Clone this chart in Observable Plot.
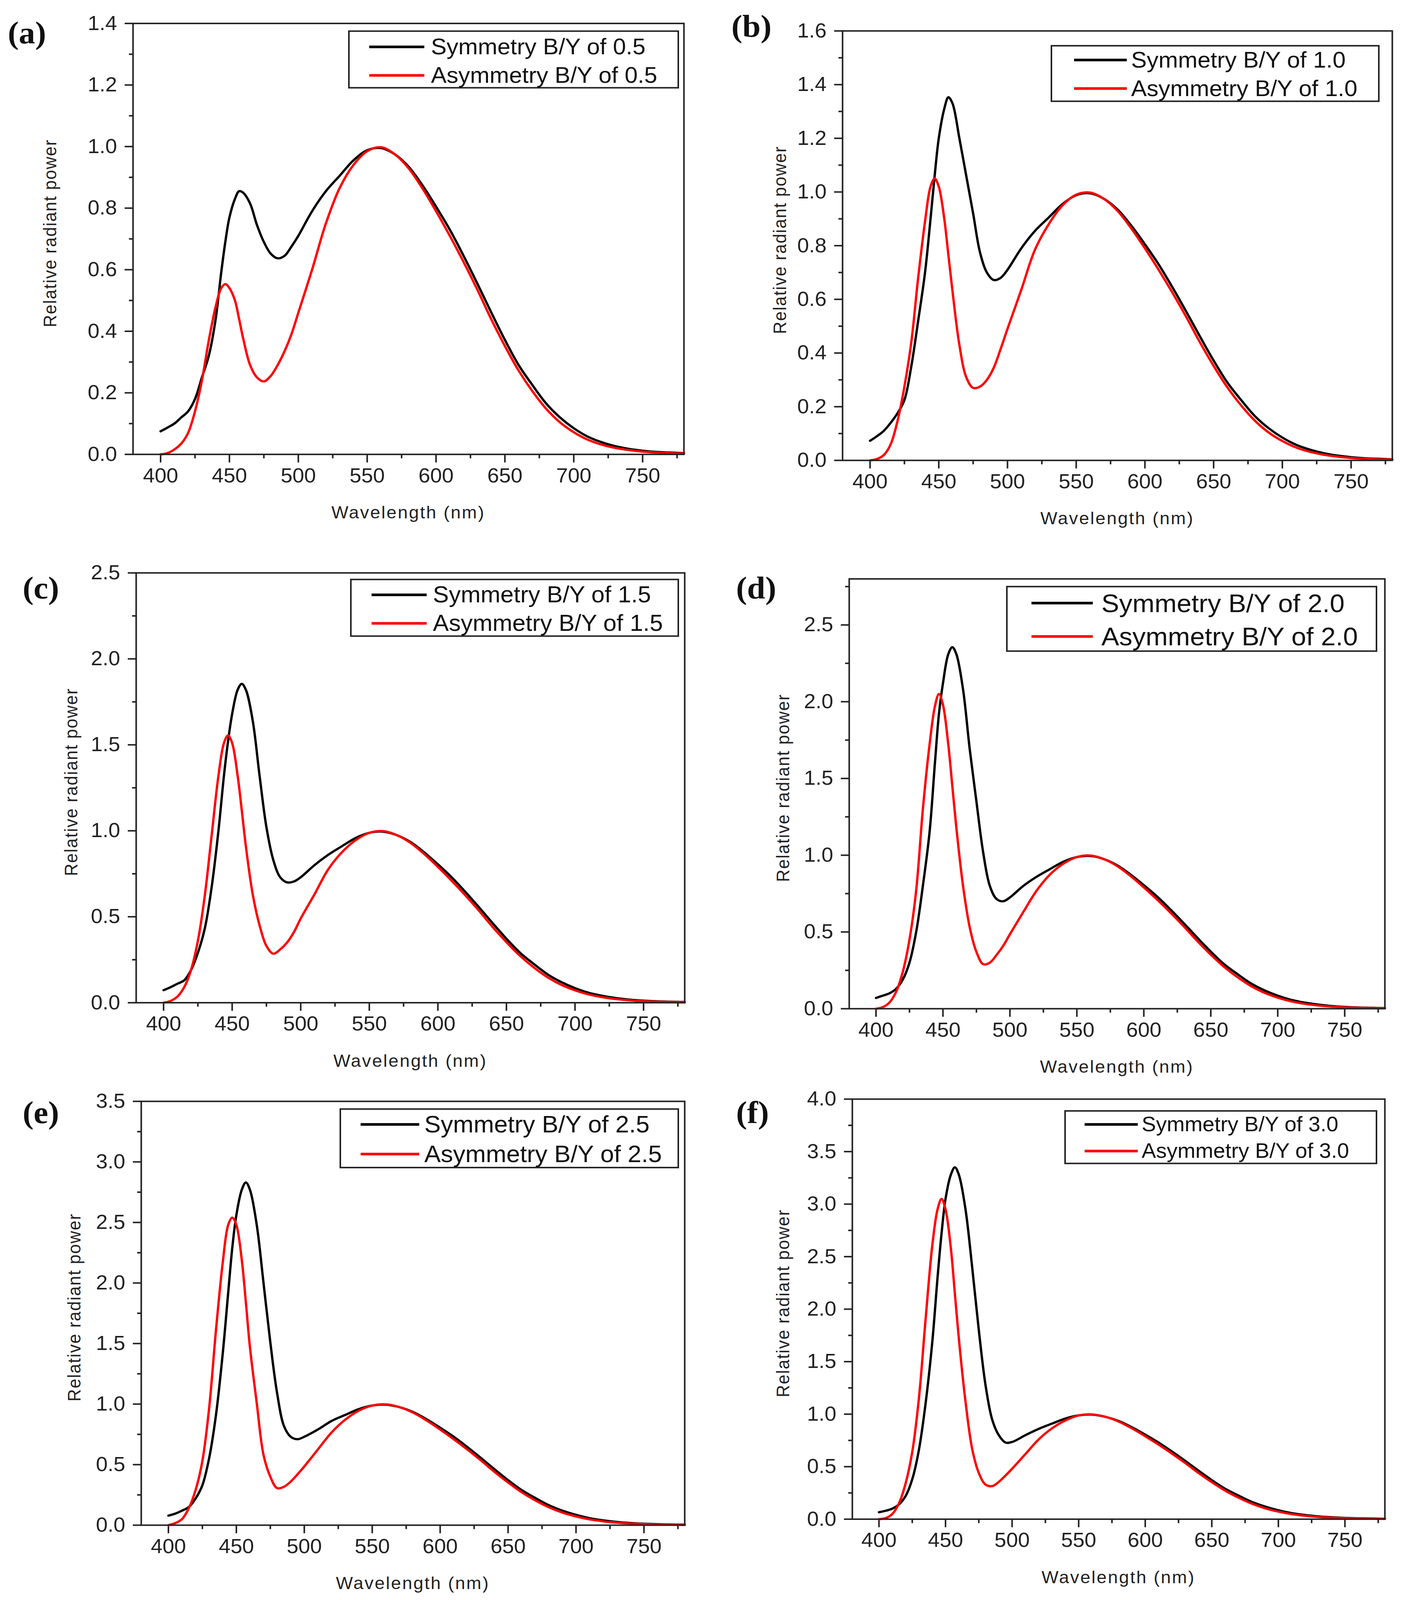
<!DOCTYPE html>
<html>
<head>
<meta charset="utf-8">
<script src="https://cdn.jsdelivr.net/npm/d3@7"></script>
<script src="https://cdn.jsdelivr.net/npm/@observablehq/plot@0.6"></script>
<style>
  html, body { margin: 0; background: #fff; overflow: hidden; }
  #page { position: relative; width: 3596px; height: 4266px; overflow: hidden; transform-origin: 0 0;
          font-family: "Liberation Sans", Arial, sans-serif; color: #222; }
  #page svg { position: absolute; overflow: visible; }
  .tag { position: absolute; transform: translateY(-50%); font-family: "Liberation Serif", "Times New Roman", serif;
         font-weight: bold; font-size: 84px; line-height: 1; color: #111; }
  .ylab { position: absolute; transform: translate(-50%, -50%) rotate(-90deg); white-space: nowrap;
          font-size: 46px; letter-spacing: 2px; line-height: 1; }
  .xlab { position: absolute; transform: translate(-50%, -50%); white-space: nowrap;
          font-size: 46px; letter-spacing: 3px; line-height: 1; }
  .legend { position: absolute; box-sizing: border-box; border: 4px solid #222; background: #fff; }
  .swatch { position: absolute; height: 7px; transform: translateY(-50%); }
  .ltext { position: absolute; transform: translateY(-50%); white-space: nowrap; line-height: 1; color: #111; }
</style>
</head>
<body>
<div id="page"></div>
<script>
// wavelength grid (nm) shared by every series
const wavelength = [400, 405, 410, 415, 420, 425, 430, 435, 440, 444, 447, 450, 454, 457, 460,
  465, 470, 475, 480, 485, 490, 495, 500, 510, 520, 530, 540,
  550, 560, 570, 580, 590, 600, 610, 620, 630, 640, 650, 660, 670, 680, 690, 700,
  710, 720, 730, 740, 750, 760, 770, 780];

const sym05 = [0.075, 0.087, 0.10, 0.12, 0.14, 0.18, 0.25, 0.32, 0.44, 0.59, 0.69, 0.77, 0.83, 0.855, 0.85,
  0.815, 0.745, 0.69, 0.652, 0.637, 0.645, 0.675, 0.71, 0.79, 0.855, 0.905, 0.955,
  0.988, 0.995, 0.975, 0.935, 0.875, 0.805, 0.73, 0.645, 0.555, 0.462, 0.372, 0.29, 0.225, 0.165, 0.12, 0.085,
  0.058, 0.04, 0.027, 0.018, 0.012, 0.008, 0.006, 0.004];
const asym05 = [0.0, 0.004, 0.016, 0.035, 0.07, 0.14, 0.24, 0.37, 0.48, 0.54, 0.553, 0.54, 0.50, 0.44, 0.376,
  0.29, 0.25, 0.237, 0.255, 0.29, 0.335, 0.39, 0.46, 0.60, 0.75, 0.865, 0.94,
  0.985, 0.998, 0.975, 0.93, 0.865, 0.79, 0.71, 0.625, 0.535, 0.44, 0.352, 0.272, 0.205, 0.148, 0.104, 0.072,
  0.048, 0.032, 0.021, 0.014, 0.009, 0.006, 0.004, 0.003];

const sym10 = [0.073, 0.09, 0.11, 0.14, 0.176, 0.225, 0.35, 0.52, 0.70, 0.90, 1.06, 1.20, 1.31, 1.353, 1.33,
  1.20, 1.06, 0.92, 0.775, 0.70, 0.672, 0.68, 0.71, 0.79, 0.855, 0.905, 0.955,
  0.988, 0.995, 0.975, 0.935, 0.875, 0.805, 0.73, 0.645, 0.555, 0.462, 0.372, 0.29, 0.225, 0.165, 0.12, 0.085,
  0.058, 0.04, 0.027, 0.018, 0.012, 0.008, 0.006, 0.004];
const asym10 = [0.0, 0.005, 0.02, 0.06, 0.147, 0.275, 0.44, 0.68, 0.89, 1.02, 1.05, 1.02, 0.90, 0.765, 0.63,
  0.43, 0.31, 0.27, 0.275, 0.30, 0.345, 0.415, 0.49, 0.635, 0.785, 0.88, 0.95,
  0.99, 0.998, 0.975, 0.93, 0.865, 0.79, 0.71, 0.625, 0.535, 0.44, 0.352, 0.272, 0.205, 0.148, 0.104, 0.072,
  0.048, 0.032, 0.021, 0.014, 0.009, 0.006, 0.004, 0.003];

const sym15 = [0.073, 0.09, 0.11, 0.13, 0.19, 0.29, 0.43, 0.67, 1.0, 1.32, 1.52, 1.68, 1.82, 1.855, 1.82,
  1.64, 1.32, 1.02, 0.83, 0.73, 0.70, 0.705, 0.73, 0.80, 0.86, 0.91, 0.958,
  0.988, 0.995, 0.975, 0.935, 0.875, 0.805, 0.73, 0.645, 0.555, 0.462, 0.372, 0.29, 0.225, 0.165, 0.12, 0.085,
  0.058, 0.04, 0.027, 0.018, 0.012, 0.008, 0.006, 0.004];
const asym15 = [0.0, 0.01, 0.035, 0.09, 0.19, 0.36, 0.62, 0.97, 1.32, 1.51, 1.555, 1.51, 1.32, 1.12, 0.91,
  0.63, 0.45, 0.33, 0.285, 0.31, 0.35, 0.41, 0.49, 0.63, 0.775, 0.875, 0.945,
  0.988, 0.998, 0.975, 0.93, 0.865, 0.79, 0.71, 0.625, 0.535, 0.44, 0.352, 0.272, 0.205, 0.148, 0.104, 0.072,
  0.048, 0.032, 0.021, 0.014, 0.009, 0.006, 0.004, 0.003];

const sym20 = [0.07, 0.085, 0.10, 0.13, 0.19, 0.30, 0.50, 0.80, 1.15, 1.60, 1.92, 2.12, 2.31, 2.355, 2.31,
  2.08, 1.69, 1.35, 1.02, 0.80, 0.715, 0.70, 0.725, 0.80, 0.86, 0.91, 0.958,
  0.988, 0.995, 0.975, 0.935, 0.875, 0.805, 0.73, 0.645, 0.555, 0.462, 0.372, 0.29, 0.225, 0.165, 0.12, 0.085,
  0.058, 0.04, 0.027, 0.018, 0.012, 0.008, 0.006, 0.004];
const asym20 = [0.0, 0.01, 0.04, 0.11, 0.24, 0.45, 0.77, 1.30, 1.72, 1.97, 2.05, 1.98, 1.72, 1.45, 1.18,
  0.80, 0.53, 0.37, 0.29, 0.30, 0.35, 0.41, 0.485, 0.63, 0.77, 0.875, 0.945,
  0.988, 0.998, 0.975, 0.93, 0.865, 0.79, 0.71, 0.625, 0.535, 0.44, 0.352, 0.272, 0.205, 0.148, 0.104, 0.072,
  0.048, 0.032, 0.021, 0.014, 0.009, 0.006, 0.004, 0.003];

const sym25 = [0.079, 0.095, 0.12, 0.15, 0.22, 0.33, 0.555, 0.91, 1.42, 1.92, 2.29, 2.56, 2.77, 2.83, 2.77,
  2.48, 2.0, 1.51, 1.09, 0.82, 0.73, 0.71, 0.73, 0.79, 0.86, 0.91, 0.958,
  0.988, 0.995, 0.975, 0.935, 0.875, 0.805, 0.73, 0.645, 0.555, 0.462, 0.372, 0.29, 0.225, 0.165, 0.12, 0.085,
  0.058, 0.04, 0.027, 0.018, 0.012, 0.008, 0.006, 0.004];
const asym25 = [0.0, 0.017, 0.05, 0.14, 0.29, 0.53, 0.97, 1.61, 2.17, 2.48, 2.54, 2.48, 2.19, 1.84, 1.47,
  1.01, 0.58, 0.40, 0.306, 0.317, 0.36, 0.42, 0.485, 0.625, 0.765, 0.87, 0.945,
  0.988, 0.998, 0.975, 0.93, 0.865, 0.79, 0.71, 0.625, 0.535, 0.44, 0.352, 0.272, 0.205, 0.148, 0.104, 0.072,
  0.048, 0.032, 0.021, 0.014, 0.009, 0.006, 0.004, 0.003];

const sym30 = [0.066, 0.08, 0.10, 0.14, 0.22, 0.38, 0.66, 1.10, 1.68, 2.30, 2.72, 3.05, 3.28, 3.35, 3.28,
  2.95, 2.40, 1.80, 1.28, 0.95, 0.80, 0.73, 0.735, 0.80, 0.86, 0.91, 0.958,
  0.988, 0.995, 0.975, 0.935, 0.875, 0.805, 0.73, 0.645, 0.555, 0.462, 0.372, 0.29, 0.225, 0.165, 0.12, 0.085,
  0.058, 0.04, 0.027, 0.018, 0.012, 0.008, 0.006, 0.004];
const asym30 = [0.0, 0.01, 0.05, 0.15, 0.34, 0.64, 1.15, 1.90, 2.60, 2.95, 3.05, 2.95, 2.58, 2.15, 1.72,
  1.12, 0.67, 0.44, 0.33, 0.315, 0.355, 0.415, 0.48, 0.62, 0.76, 0.865, 0.94,
  0.988, 0.998, 0.975, 0.93, 0.865, 0.79, 0.71, 0.625, 0.535, 0.44, 0.352, 0.272, 0.205, 0.148, 0.104, 0.072,
  0.048, 0.032, 0.021, 0.014, 0.009, 0.006, 0.004, 0.003];

const ratios = ["0.5", "1.0", "1.5", "2.0", "2.5", "3.0"];
const tags = ["(a)", "(b)", "(c)", "(d)", "(e)", "(f)"];

const xTicks = [400, 450, 500, 550, 600, 650, 700, 750];
const xMinor = [425, 475, 525, 575, 625, 675, 725, 775];
const yTicks = [
  [0, 0.2, 0.4, 0.6, 0.8, 1.0, 1.2, 1.4],
  [0, 0.2, 0.4, 0.6, 0.8, 1.0, 1.2, 1.4, 1.6],
  [0, 0.5, 1.0, 1.5, 2.0, 2.5],
  [0, 0.5, 1.0, 1.5, 2.0, 2.5],
  [0, 0.5, 1.0, 1.5, 2.0, 2.5, 3.0, 3.5],
  [0, 0.5, 1.0, 1.5, 2.0, 2.5, 3.0, 3.5, 4.0]
];
const yMinor = [
  [0.1, 0.3, 0.5, 0.7, 0.9, 1.1, 1.3],
  [0.1, 0.3, 0.5, 0.7, 0.9, 1.1, 1.3, 1.5],
  [0.25, 0.75, 1.25, 1.75, 2.25],
  [0.25, 0.75, 1.25, 1.75, 2.25, 2.75],
  [0.25, 0.75, 1.25, 1.75, 2.25, 2.75, 3.25],
  [0.25, 0.75, 1.25, 1.75, 2.25, 2.75, 3.25, 3.75]
];
const yMax = [1.4, 1.6, 2.5, 2.8, 3.5, 4.0];
const symSeries = [sym05, sym10, sym15, sym20, sym25, sym30];
const asymSeries = [asym05, asym10, asym15, asym20, asym25, asym30];

// page layout in pixels: frame [left, top, right, bottom], labels and legend boxes
const layout = [
  { frame: [340, 62, 1750, 1211], tag: [20, 88], ylabX: 128, legend: [891, 81, 1738, 236], fs: 60, line: [945, 1086], tx: 1103, rows: [125, 201] },
  { frame: [2156, 82, 3563, 1227], tag: [1872, 70], ylabX: 1996, legend: [2689, 120, 3531, 272], fs: 60, line: [2749, 2884], tx: 2895, rows: [160, 236] },
  { frame: [348, 1527, 1752, 2673], tag: [58, 1568], ylabX: 182, legend: [896, 1543, 1738, 1698], fs: 61, line: [951, 1092], tx: 1108, rows: [1586, 1662] },
  { frame: [2173, 1543, 3544, 2689], tag: [1884, 1568], ylabX: 2004, legend: [2575, 1562, 3525, 1738], fs: 68, line: [2640, 2797], tx: 2819, rows: [1608, 1697] },
  { frame: [361, 2936, 1752, 4066], tag: [58, 2966], ylabX: 190, legend: [869, 2955, 1738, 3115], fs: 63, line: [923, 1073], tx: 1086, rows: [2998, 3077] },
  { frame: [2181, 2930, 3544, 4050], tag: [1884, 2966], ylabX: 2004, legend: [2724, 2960, 3525, 3104], fs: 55, line: [2776, 2912], tx: 2922, rows: [2998, 3069] }
];

const SYM_COLOR = "#000000";
const ASYM_COLOR = "#ff0000";
const ML = 160, MR = 10, MT = 10, MB = 110;

const page = document.getElementById("page");

function addDiv(cls, text, style) {
  const el = document.createElement("div");
  el.className = cls;
  if (text != null) el.textContent = text;
  Object.assign(el.style, style);
  page.appendChild(el);
  return el;
}

layout.forEach((L, i) => {
  const [fl, ft, fr, fb] = L.frame;
  const symRows = wavelength.map((w, k) => ({ wl: w, v: symSeries[i][k] }));
  const asymRows = wavelength.map((w, k) => ({ wl: w, v: asymSeries[i][k] }));

  const plot = Plot.plot({
    width: fr - fl + ML + MR,
    height: fb - ft + MT + MB,
    marginLeft: ML, marginRight: MR, marginTop: MT, marginBottom: MB,
    style: { fontFamily: '"Liberation Sans", Arial, sans-serif', fontSize: "54px", color: "#222", background: "transparent" },
    x: { domain: [380, 780], label: null },
    y: { domain: [0, yMax[i]], label: null },
    marks: [
      Plot.axisX(xTicks, { tickSize: 22, tickPadding: 14, strokeWidth: 4, tickFormat: (d) => String(d), label: null }),
      Plot.axisX(xMinor, { tickSize: 11, strokeWidth: 4, tickFormat: () => "", label: null }),
      Plot.axisY(yTicks[i], { tickSize: 21, tickPadding: 20, strokeWidth: 4, tickFormat: d3.format(".1f"), label: null }),
      Plot.axisY(yMinor[i], { tickSize: 10, strokeWidth: 4, tickFormat: () => "", label: null }),
      Plot.line(symRows, { x: "wl", y: "v", stroke: SYM_COLOR, strokeWidth: 6, curve: "catmull-rom" }),
      Plot.line(asymRows, { x: "wl", y: "v", stroke: ASYM_COLOR, strokeWidth: 6, curve: "catmull-rom" }),
      Plot.frame({ stroke: "#222", strokeWidth: 4 })
    ]
  });
  plot.style.left = (fl - ML) + "px";
  plot.style.top = (ft - MT) + "px";
  page.appendChild(plot);

  addDiv("tag", tags[i], { left: L.tag[0] + "px", top: L.tag[1] + "px" });
  addDiv("ylab", "Relative radiant power", { left: L.ylabX + "px", top: ((ft + fb) / 2 - 15) + "px" });
  addDiv("xlab", "Wavelength (nm)", { left: ((fl + fr) / 2) + "px", top: (fb + 155) + "px" });

  const [ll, lt, lr, lb] = L.legend;
  addDiv("legend", null, { left: ll + "px", top: lt + "px", width: (lr - ll) + "px", height: (lb - lt) + "px" });
  const names = ["Symmetry B/Y of " + ratios[i], "Asymmetry B/Y of " + ratios[i]];
  const colors = [SYM_COLOR, ASYM_COLOR];
  names.forEach((name, r) => {
    addDiv("swatch", null, { left: L.line[0] + "px", top: L.rows[r] + "px", width: (L.line[1] - L.line[0]) + "px", background: colors[r] });
    addDiv("ltext", name, { left: L.tx + "px", top: L.rows[r] + "px", fontSize: L.fs + "px" });
  });
});

// the window's viewport is shorter than 4266px, so fit the layout into it
const sx = window.innerWidth / 3596;
const sy = window.innerHeight / 4266;
page.style.transform = `scale(${sx}, ${sy})`;
</script>
</body>
</html>
